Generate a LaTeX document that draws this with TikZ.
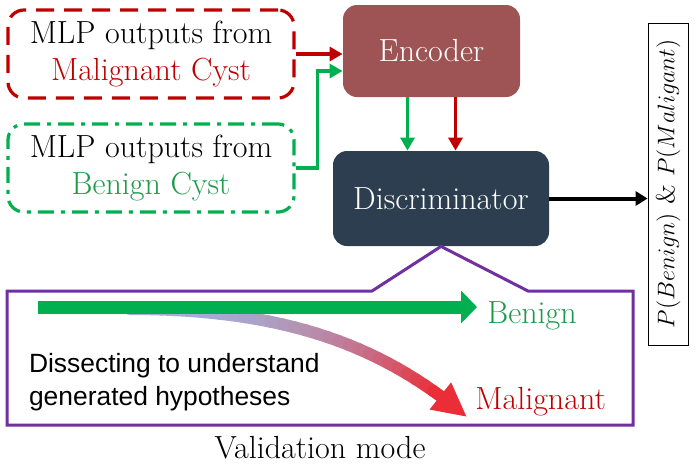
\documentclass[tikz,border=0pt]{standalone}
\usepackage{fontspec}
\newfontfamily\sansfont{Liberation Sans}
\usetikzlibrary{arrows.meta}
\definecolor{malred}{HTML}{C00000}
\definecolor{bengreen}{HTML}{00B050}
\definecolor{bentext}{HTML}{1F9A4A}
\definecolor{encfill}{HTML}{9E5454}
\definecolor{discfill}{HTML}{2C3E50}
\definecolor{valpurple}{HTML}{7030A0}
\definecolor{curveblue}{RGB}{165,175,215}
\definecolor{curvered}{RGB}{235,45,55}
\begin{document}
\begin{tikzpicture}[x=0.5pt,y=-0.5pt,>={Triangle[length=6.5pt,width=7pt]},
big/.style={font=\fontsize{16}{18.5}\selectfont},
inbox/.style={big,draw,rounded corners=8pt,line width=1.6pt,minimum width=143pt,minimum height=44pt,align=center},
block/.style={big,rounded corners=7pt,text=white},
flow/.style={->,line width=1.6pt}]
\useasboundingbox (0,0) rectangle (699,467);
\node[inbox,malred,dash pattern=on 9pt off 5pt,text=black] (mal) at (151,54) {MLP outputs from\\\textcolor{malred}{Malignant Cyst}};
\node[inbox,bengreen,dash pattern=on 8pt off 3.5pt on 2pt off 3.5pt,text=black] (ben) at (151,168) {MLP outputs from\\\textcolor{bentext}{Benign Cyst}};
\node[block,fill=encfill,minimum width=88.5pt,minimum height=46pt] (enc) at (431.5,51) {Encoder};
\node[block,fill=discfill,minimum width=108pt,minimum height=47.5pt] (disc) at (441,198.5) {Discriminator};
\node[draw,rotate=90,minimum width=161pt,minimum height=20pt,inner sep=1pt,font=\fontsize{13}{15}\selectfont] (out) at (668,184) {$P(Benign)$ \& $P(Maligant)$};
\draw[flow,malred] (mal.east) -- (mal.east -| enc.west);
\draw[flow,bengreen] (ben.east) -- ++(11pt,0) |- ([yshift=-10pt]enc.west);
\draw[flow,bengreen] ([xshift=-12pt]enc.south) -- ([xshift=-12pt]enc.south |- disc.north);
\draw[flow,malred] ([xshift=12pt]enc.south) -- ([xshift=12pt]enc.south |- disc.north);
\draw[-{Triangle[length=6pt,width=7pt]},line width=2pt] (disc.east) -- (disc.east -| out.north);
\coordinate (vtl) at (7,291);
\coordinate (vpl) at (372,291);
\coordinate (vpr) at (528,291);
\coordinate (vtr) at (633,291);
\coordinate (vbr) at (633,425);
\coordinate (vbl) at (7,425);
\draw[valpurple,line width=1.5pt,line join=miter] (vtl) -- (vpl) -- (disc.south) -- (vpr) -- (vtr) -- (vbr) -- (vbl) -- cycle;
\coordinate (cs) at (130,309);
\coordinate (c1) at (290,309);
\coordinate (c2) at (385,348);
\coordinate (ce) at (467,417);
\foreach \i in {0,...,30}
  \path (cs) .. controls (c1) and (c2) .. (ce) coordinate[pos=\i/30] (m\i);
\foreach \i [evaluate=\i as \j using int(\i+1), evaluate=\i as \p using int(100*(\i/26)^2)] in {0,...,26}
  \draw[line width=6pt,line cap=round,curvered!\p!curveblue] (m\i) -- (m\j);
\draw[curvered,line width=6pt,-{Triangle[length=17pt,width=16pt]}] (m27) -- (m30);
\coordinate (ga) at (38,307);
\coordinate (gb) at (477,307);
\draw[bengreen,line width=6.5pt,-{Triangle[length=8pt,width=16pt]}] (ga) -- (gb);
\node[big,text=bentext,anchor=base west,inner sep=0pt] (benlab) at (487,323) {Benign};
\node[big,text=malred,anchor=base west,inner sep=0pt] (mallab) at (475,409) {Malignant};
\node[font=\sansfont\fontsize{13.2}{16.5}\selectfont,align=left,anchor=west] (dis) at (22,382) {Dissecting to understand\\generated hypotheses};
\node[big,anchor=base] (val) at (320,458) {Validation mode};
\end{tikzpicture}
\end{document}
